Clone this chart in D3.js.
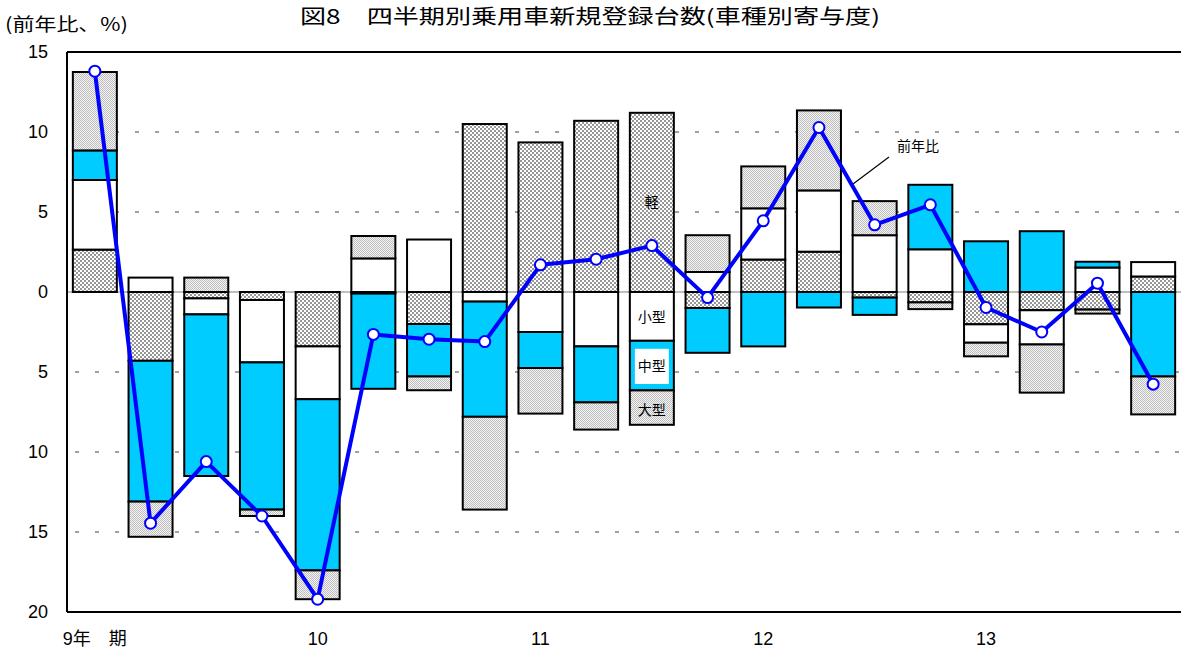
<!DOCTYPE html>
<html><head><meta charset="utf-8">
<script src="https://cdn.jsdelivr.net/npm/d3@7"></script>
<style>html,body{margin:0;padding:0;background:#fff;overflow:hidden}</style>
</head><body>
<svg id="c" width="1181" height="652"></svg>
<script>
const quarters = ["9年Q1","9年Q2","9年Q3","9年Q4","10年Q1","10年Q2","10年Q3","10年Q4","11年Q1","11年Q2","11年Q3","11年Q4","12年Q1","12年Q2","12年Q3","12年Q4","13年Q1","13年Q2","13年Q3","13年Q4"];
const xLabels = ["9年　期","","","","10","","","","11","","","","12","","","","13","","",""];
const seriesNames = ["軽","小型","中型","大型"];
const kei    = [2.65,-4.3,-0.4,-0.5,-3.4,-0.1,-2.0,10.5,9.35,10.7,11.2,-1.0,2.03,2.52,-0.35,-0.65,-2.02,-1.14,-1.1,0.97];
const small  = [4.35,0.9,-1.0,-3.9,-3.3,2.1,3.28,-0.6,-2.5,-3.4,-3.05,1.25,3.2,3.83,3.55,2.67,-1.15,-2.14,1.53,0.9];
const medium = [1.85,-8.8,-10.1,-9.2,-10.7,-5.95,-3.28,-7.2,-2.25,-3.5,-3.1,-2.8,-3.4,-0.97,-1.08,4.03,3.17,3.8,0.36,-5.28];
const large  = [4.9,-2.2,0.9,-0.4,-1.8,1.4,-0.86,-5.8,-2.85,-1.7,-2.15,2.3,2.62,5.0,2.13,-0.42,-0.85,-3.01,-0.25,-2.37];
const yoy    = [13.8,-14.45,-10.6,-14.0,-19.2,-2.65,-2.95,-3.1,1.7,2.05,2.9,-0.35,4.45,10.28,4.2,5.45,-0.97,-2.5,0.55,-5.76];
const yTicks = [15,10,5,0,-5,-10,-15,-20];
const title = "図8　四半期別乗用車新規登録台数(車種別寄与度)";
const yTitle = "(前年比、%)";

const svg = d3.select("#c");
const L = 67, R = 1181, T = 52, B = 612;
const x = d3.scaleBand().domain(quarters).range([L, R]).paddingInner(0.21).paddingOuter(0.105);
const y = d3.scaleLinear().domain([-20, 15]).range([B, T]);

const defs = svg.append("defs");
const p1 = defs.append("pattern").attr("id","pKei").attr("width",4).attr("height",4).attr("patternUnits","userSpaceOnUse");
p1.append("rect").attr("width",4).attr("height",4).attr("fill","#fff");
p1.append("rect").attr("width",2).attr("height",2).attr("fill","#969696");
p1.append("rect").attr("x",2).attr("y",2).attr("width",2).attr("height",2).attr("fill","#969696");
const p2 = defs.append("pattern").attr("id","pLarge").attr("width",2).attr("height",2).attr("patternUnits","userSpaceOnUse");
p2.append("rect").attr("width",2).attr("height",2).attr("fill","#f4f4f4");
p2.append("rect").attr("width",1).attr("height",1).attr("fill","#bdbdbd");
p2.append("rect").attr("x",1).attr("y",1).attr("width",1).attr("height",1).attr("fill","#bdbdbd");

const fills = {"軽":"url(#pKei)","小型":"#ffffff","中型":"#00ccff","大型":"url(#pLarge)"};
const seriesVals = {"軽":kei,"小型":small,"中型":medium,"大型":large};

// gridlines
svg.append("g").selectAll("line").data(yTicks.filter(d=>d!==0 && d!==15 && d!==-20)).join("line")
  .attr("x1",L).attr("x2",R).attr("y1",d=>y(d)).attr("y2",d=>y(d))
  .attr("stroke","#808080").attr("stroke-width",1.5).attr("stroke-dasharray","4,16").attr("stroke-dashoffset",-8);
svg.append("line").attr("x1",L).attr("x2",R).attr("y1",y(0)).attr("y2",y(0)).attr("stroke","#808080").attr("stroke-width",1.2);

// stacked segments
const segs = [];
quarters.forEach((q,i)=>{
  let pos=0, neg=0;
  seriesNames.forEach(s=>{
    const v = seriesVals[s][i];
    if (v>=0){ segs.push({q,s,y0:pos,y1:pos+v}); pos+=v; }
    else { segs.push({q,s,y0:neg,y1:neg+v}); neg+=v; }
  });
});
svg.append("g").selectAll("rect").data(segs).join("rect")
  .attr("x",d=>x(d.q)).attr("width",x.bandwidth())
  .attr("y",d=>y(Math.max(d.y0,d.y1))).attr("height",d=>Math.abs(y(d.y0)-y(d.y1)))
  .attr("fill",d=>fills[d.s]).attr("stroke","#000").attr("stroke-width",2);

// axes frame
svg.append("line").attr("x1",L).attr("x2",R).attr("y1",T).attr("y2",T).attr("stroke","#000").attr("stroke-width",2);
svg.append("line").attr("x1",L).attr("x2",R).attr("y1",B).attr("y2",B).attr("stroke","#000").attr("stroke-width",2);
svg.append("line").attr("x1",L).attr("x2",L).attr("y1",T).attr("y2",B).attr("stroke","#000").attr("stroke-width",2);

// y axis tick labels
const yAxis = d3.axisLeft(y).tickValues(yTicks).tickFormat(d=>Math.abs(d)).tickSize(0).tickPadding(0);
const ya = svg.append("g").attr("transform",`translate(48,0)`).call(yAxis);
ya.select(".domain").remove();
ya.selectAll("text").attr("font-family","'Liberation Sans',Arial,sans-serif").attr("font-size",18).attr("fill","#000").attr("dy","0.3em");

// x axis labels
const xAxis = d3.axisBottom(x).tickFormat((d,i)=>xLabels[i]).tickSize(0).tickPadding(0);
const xa = svg.append("g").attr("transform",`translate(0,632)`).call(xAxis);
xa.select(".domain").remove();
xa.selectAll("text").attr("font-family","'Liberation Sans','Noto Sans CJK JP',sans-serif").attr("font-size",18).attr("fill","#000");

// line
const lineGen = d3.line().x((d,i)=>x(quarters[i])+x.bandwidth()/2).y(d=>y(d));
svg.append("path").datum(yoy).attr("d",lineGen).attr("fill","none").attr("stroke","#0000ff").attr("stroke-width",4).attr("stroke-linejoin","round");
svg.append("g").selectAll("circle").data(yoy).join("circle")
  .attr("cx",(d,i)=>x(quarters[i])+x.bandwidth()/2).attr("cy",d=>y(d)).attr("r",5.5)
  .attr("fill","#fff").attr("stroke","#0000ff").attr("stroke-width",2);

// in-bar legend labels (bar index 10)
const lq = quarters[10];
const lx = x(lq)+x.bandwidth()/2;
svg.append("rect").attr("x",lx-17).attr("y",y(-3.55)).attr("width",34).attr("height",y(-5.75)-y(-3.55)).attr("fill","#fff");
const lab = [["軽",5.6],["小型",-1.55],["中型",-4.6],["大型",-7.35]];
svg.append("g").selectAll("text").data(lab).join("text")
  .attr("x",lx).attr("y",d=>y(d[1])).attr("dy","0.35em").attr("text-anchor","middle")
  .attr("font-family","'Noto Sans CJK JP',sans-serif").attr("font-size",14).attr("fill","#000").text(d=>d[0]);

// annotation
svg.append("line").attr("x1",889).attr("y1",157).attr("x2",853).attr("y2",184).attr("stroke","#000").attr("stroke-width",1.2);
svg.append("text").attr("x",897).attr("y",151).attr("font-family","'Noto Sans CJK JP',sans-serif").attr("font-size",14).attr("fill","#000").text("前年比");

// titles
svg.append("text").attr("x",300).attr("y",24).attr("textLength",580).attr("lengthAdjust","spacingAndGlyphs")
  .attr("font-family","'Noto Sans CJK JP',sans-serif").attr("font-size",20).attr("fill","#000").text(title);
svg.append("text").attr("x",5).attr("y",31).attr("textLength",123).attr("lengthAdjust","spacingAndGlyphs")
  .attr("font-family","'Noto Sans CJK JP',sans-serif").attr("font-size",18).attr("fill","#000").text(yTitle);
</script>
</body></html>
